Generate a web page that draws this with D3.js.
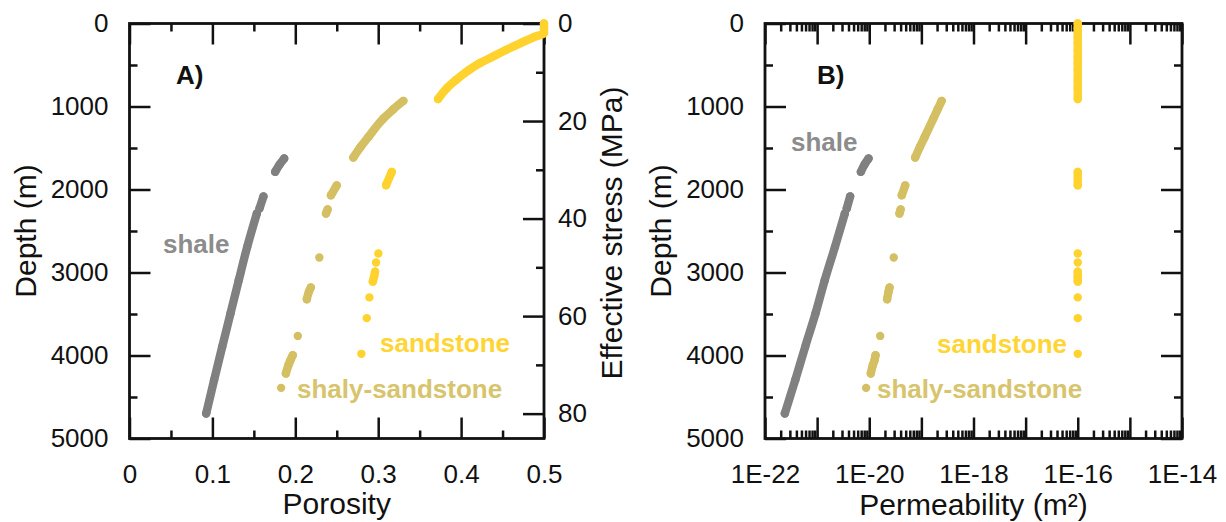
<!DOCTYPE html>
<html>
<head>
<meta charset="utf-8">
<script src="https://cdn.jsdelivr.net/npm/d3@7"></script>
<style>
  html, body { margin: 0; padding: 0; background: #fff; }
  svg { display: block; }
  text { font-family: "Liberation Sans", Arial, sans-serif; }
</style>
</head>
<body>
<svg id="chart" width="1226" height="522"></svg>
<script>
// ---------------- data ----------------
const depthTicks = [0, 1000, 2000, 3000, 4000, 5000];
const depthMinorTicks = [500, 1500, 2500, 3500, 4500];
const porosityTicks = [0, 0.1, 0.2, 0.3, 0.4, 0.5];
const porosityMinorTicks = [0.05, 0.15, 0.25, 0.35, 0.45];
const stressTicks = [0, 20, 40, 60, 80];
const stressMinorTicks = [10, 30, 50, 70];
const permLabelTicks = [1e-22, 1e-20, 1e-18, 1e-16, 1e-14];
const permLabelText = ["1E-22", "1E-20", "1E-18", "1E-16", "1E-14"];
const permDecadeTicks = [1e-21, 1e-19, 1e-17, 1e-15];

// shale
const shaleDepth    = [1627, 1700, 1788, 2083, 2229, 2289, 2691, 3093, 3494, 3896, 4297, 4699];
const shalePorosity = [0.1866, 0.181, 0.1757, 0.1616, 0.1568, 0.1536, 0.1420, 0.1318, 0.1218, 0.1118, 0.1020, 0.0925];
const shalePerm     = [9.7e-21, 8.1e-21, 6.9e-21, 4.3e-21, 3.7e-21, 3.4e-21, 2.2e-21, 1.4e-21, 9.3e-22, 5.9e-22, 3.8e-22, 2.4e-22];
const shaleSeg      = [0, 0, 0, 1, 1, 2, 2, 2, 2, 2, 2, 2];

// shaly-sandstone
const shalySandDepth    = [932, 1034, 1145, 1366, 1484, 1615, 1950, 2070, 2240, 2290, 2819, 3181, 3230, 3322, 3764, 3996, 4060, 4117, 4217, 4390];
const shalySandPorosity = [0.3304, 0.3182, 0.3063, 0.2882, 0.2789, 0.270, 0.250, 0.243, 0.239, 0.237, 0.229, 0.2187, 0.2165, 0.2139, 0.203, 0.197, 0.194, 0.1917, 0.1886, 0.1829];
const shalySandPerm     = [2.45e-19, 2.05e-19, 1.7e-19, 1.16e-19, 9.4e-20, 7.6e-20, 4.9e-20, 4.2e-20, 4.0e-20, 3.8e-20, 2.95e-20, 2.45e-20, 2.35e-20, 2.2e-20, 1.62e-20, 1.32e-20, 1.26e-20, 1.17e-20, 1.07e-20, 8.7e-21];
const shalySandSeg      = [0, 0, 0, 0, 0, 0, 1, 1, 2, 2, 3, 4, 4, 4, 5, 6, 6, 6, 6, 7];

// sandstone
const sandDepth    = [0, 60, 114, 163, 235, 319, 404, 476, 560, 681, 777, 910, 1788, 1948, 2771, 2880, 2990, 3050, 3110, 3300, 3550, 3980];
const sandPorosity = [0.5, 0.5, 0.5, 0.4879, 0.4722, 0.4541, 0.4373, 0.4228, 0.4095, 0.3938, 0.3830, 0.3722, 0.3164, 0.3095, 0.3002, 0.2974, 0.2962, 0.295, 0.2935, 0.2894, 0.2862, 0.2797];
const sandPerm     = [1e-16, 1e-16, 1e-16, 1e-16, 1e-16, 1e-16, 1e-16, 1e-16, 1e-16, 1e-16, 1e-16, 1e-16, 1e-16, 1e-16, 1e-16, 1e-16, 1e-16, 1e-16, 1e-16, 1e-16, 1e-16, 1e-16];
const sandSeg      = [0, 0, 0, 0, 0, 0, 0, 0, 0, 0, 0, 0, 1, 1, 2, 3, 4, 4, 4, 5, 6, 7];

const seriesNames  = ["shale", "shaly-sandstone", "sandstone"];
const seriesColors = ["#808080", "#d4bf62", "#ffd22e"];
const labelColors  = ["#8c8c8c", "#d8c46c", "#ffd535"];

// ---------------- layout ----------------
const svg = d3.select("#chart");
const yTop = 23.5, yBottom = 438.5;
const A = { left: 129.5, right: 544 };
const B = { left: 765, right: 1182 };
const majorLen = 21, minorLen = 8;
const tickFont = 26, titleFont = 30, labelFont = 26;

const y = d3.scaleLinear().domain([0, 5000]).range([yTop, yBottom]);
const xPor = d3.scaleLinear().domain([0, 0.5]).range([A.left, A.right]);
const yStress = d3.scaleLinear().domain([0, 85.1]).range([yTop, yBottom]);
const xPerm = d3.scaleLog().domain([1e-22, 1e-14]).range([B.left, B.right]);

const permMinor = [];
for (let e = -22; e < -14; e++) for (let m = 2; m <= 9; m++) permMinor.push(m * Math.pow(10, e));

function styleAxis(g, showLabels) {
  g.select(".domain").remove();
  g.selectAll(".tick line").attr("stroke", "#111").attr("stroke-width", 2.5);
  g.selectAll(".tick text")
    .attr("font-family", "Liberation Sans, Arial, sans-serif")
    .attr("font-size", tickFont).attr("fill", "#111");
  if (!showLabels) g.selectAll(".tick text").remove();
  g.attr("font-family", null).attr("font-size", null);
}

function addAxis(axisFn, scale, values, len, pad, translate, labels, fmt) {
  const ax = axisFn(scale).tickValues(values).tickSizeInner(-len).tickSizeOuter(0).tickPadding(pad);
  if (fmt) ax.tickFormat(fmt);
  const g = svg.append("g").attr("transform", translate).call(ax);
  styleAxis(g, labels);
  return g;
}

// Panel A axes
addAxis(d3.axisLeft, y, depthTicks, majorLen, 21, `translate(${A.left},0)`, true, d3.format("d"));
addAxis(d3.axisLeft, y, depthMinorTicks, minorLen, 21, `translate(${A.left},0)`, false);
addAxis(d3.axisBottom, xPor, porosityTicks, majorLen, 26, `translate(0,${yBottom})`, true, d => d === 0 ? "0" : d3.format(".1f")(d));
addAxis(d3.axisBottom, xPor, porosityMinorTicks, minorLen, 26, `translate(0,${yBottom})`, false);
addAxis(d3.axisTop, xPor, porosityTicks, majorLen, 10, `translate(0,${yTop})`, false);
addAxis(d3.axisTop, xPor, porosityMinorTicks, minorLen, 10, `translate(0,${yTop})`, false);
addAxis(d3.axisRight, yStress, stressTicks, majorLen, 14, `translate(${A.right},0)`, true, d3.format("d"));
addAxis(d3.axisRight, yStress, stressMinorTicks, minorLen, 14, `translate(${A.right},0)`, false);

// Panel B axes
addAxis(d3.axisLeft, y, depthTicks, majorLen, 21, `translate(${B.left},0)`, true, d3.format("d"));
addAxis(d3.axisLeft, y, depthMinorTicks, minorLen, 21, `translate(${B.left},0)`, false);
addAxis(d3.axisRight, y, depthTicks, majorLen, 10, `translate(${B.right},0)`, false);
addAxis(d3.axisRight, y, depthMinorTicks, minorLen, 10, `translate(${B.right},0)`, false);
addAxis(d3.axisBottom, xPerm, permLabelTicks, majorLen, 26, `translate(0,${yBottom})`, true, (d, i) => permLabelText[i]);
addAxis(d3.axisBottom, xPerm, permDecadeTicks, majorLen, 26, `translate(0,${yBottom})`, false);
addAxis(d3.axisBottom, xPerm, permMinor, minorLen, 26, `translate(0,${yBottom})`, false);
addAxis(d3.axisTop, xPerm, permLabelTicks.concat(permDecadeTicks), majorLen, 10, `translate(0,${yTop})`, false);
addAxis(d3.axisTop, xPerm, permMinor, minorLen, 10, `translate(0,${yTop})`, false);

// frames
[A, B].forEach(p => {
  svg.append("rect")
    .attr("x", p.left).attr("y", yTop)
    .attr("width", p.right - p.left).attr("height", yBottom - yTop)
    .attr("fill", "none").attr("stroke", "#111").attr("stroke-width", 2.8);
});

// ---------------- series ----------------
const seriesData = [
  { depth: shaleDepth, por: shalePorosity, perm: shalePerm, seg: shaleSeg },
  { depth: shalySandDepth, por: shalySandPorosity, perm: shalySandPerm, seg: shalySandSeg },
  { depth: sandDepth, por: sandPorosity, perm: sandPerm, seg: sandSeg }
];
const r = 4.2;

function drawSeries(xKey, xScale, si) {
  const s = seriesData[si];
  const pts = s.depth.map((d, i) => ({ depth: d, x: s[xKey][i], seg: s.seg[i] }));
  const groups = d3.groups(pts, d => d.seg);
  const line = d3.line().curve(d3.curveMonotoneY).x(d => xScale(d.x)).y(d => y(d.depth));
  const g = svg.append("g");
  groups.forEach(([k, arr]) => {
    if (arr.length > 1) {
      g.append("path").attr("d", line(arr))
        .attr("fill", "none").attr("stroke", seriesColors[si])
        .attr("stroke-width", 2 * r).attr("stroke-linecap", "round").attr("stroke-linejoin", "round");
    }
  });
  g.selectAll("circle").data(pts).join("circle")
    .attr("cx", d => xScale(d.x)).attr("cy", d => y(d.depth)).attr("r", r)
    .attr("fill", seriesColors[si]);
}
[0, 1, 2].forEach(i => { drawSeries("por", xPor, i); drawSeries("perm", xPerm, i); });

// ---------------- text ----------------
function txt(x, yy, s, opts = {}) {
  const t = svg.append("text").attr("x", x).attr("y", yy).text(s)
    .attr("font-size", opts.size || titleFont)
    .attr("fill", opts.fill || "#111")
    .attr("text-anchor", opts.anchor || "start")
    .attr("font-weight", opts.weight || "normal");
  if (opts.rotate) t.attr("transform", `rotate(-90,${x},${yy})`);
  return t;
}
const midY = (yTop + yBottom) / 2;
txt((A.left + A.right) / 2, 514, "Porosity", { anchor: "middle" });
txt((B.left + B.right) / 2, 515, "Permeability (m²)", { anchor: "middle" });
txt(36, midY, "Depth (m)", { anchor: "middle", rotate: true });
txt(671, midY, "Depth (m)", { anchor: "middle", rotate: true });
txt(622, midY + 2, "Effective stress (MPa)", { anchor: "middle", rotate: true });

txt(176, 84, "A)", { size: 26, weight: "bold" });
txt(817, 84, "B)", { size: 26, weight: "bold" });

// series labels
txt(163, 253, seriesNames[0], { size: labelFont, weight: "bold", fill: labelColors[0] });
txt(380, 352, seriesNames[2], { size: labelFont, weight: "bold", fill: labelColors[2] });
txt(297, 398, seriesNames[1], { size: labelFont, weight: "bold", fill: labelColors[1] });
txt(791, 151, seriesNames[0], { size: labelFont, weight: "bold", fill: labelColors[0] });
txt(937, 353, seriesNames[2], { size: labelFont, weight: "bold", fill: labelColors[2] });
txt(877, 398, seriesNames[1], { size: labelFont, weight: "bold", fill: labelColors[1] });
</script>
</body>
</html>
